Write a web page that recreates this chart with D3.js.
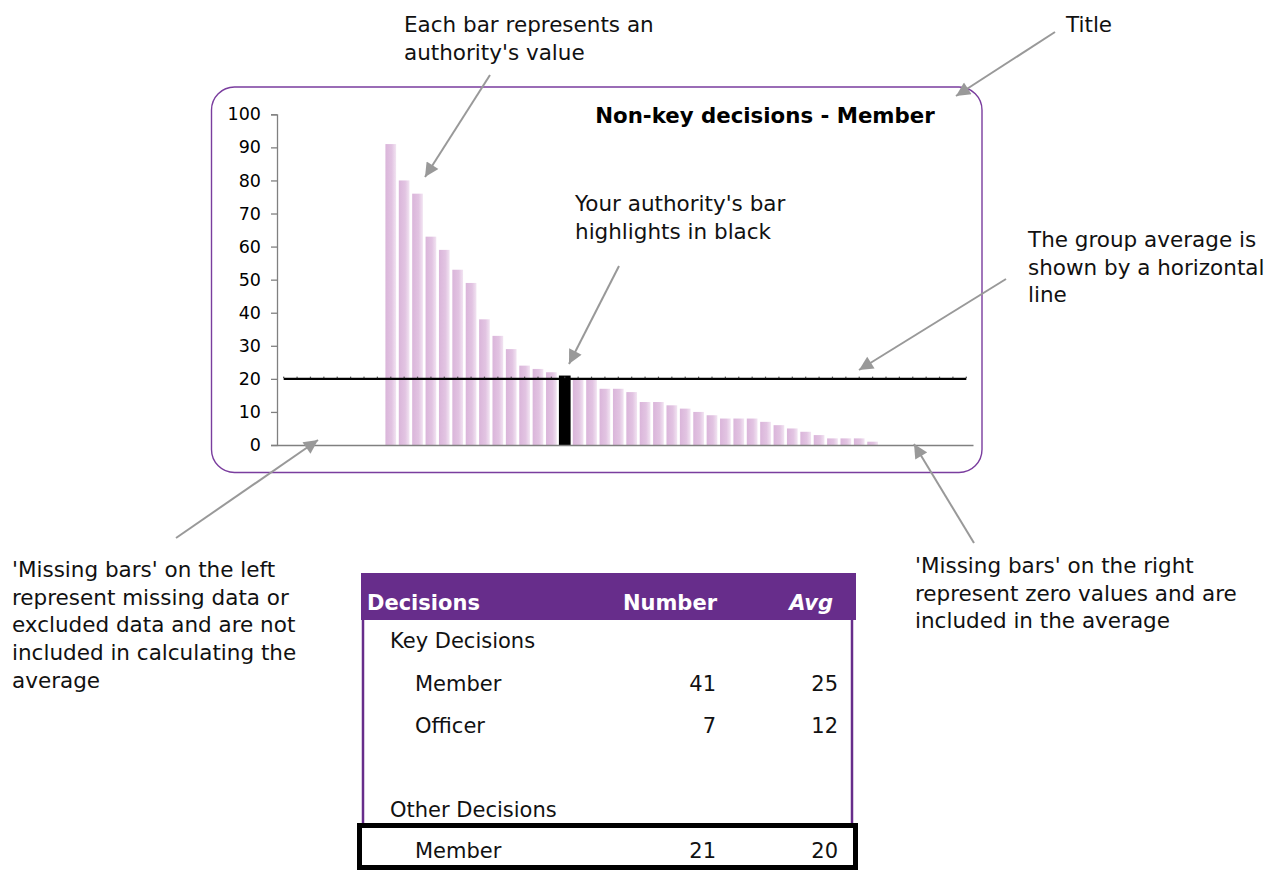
<!DOCTYPE html>
<html>
<head>
<meta charset="utf-8">
<script src="https://cdn.jsdelivr.net/npm/d3@7/dist/d3.min.js"></script>
<style>
  html, body { margin: 0; padding: 0; background: #fff; }
  svg { display: block; font-family: "DejaVu Sans", Verdana, sans-serif; }
</style>
</head>
<body>
<svg id="chart" width="1282" height="871"></svg>
<script>
// ---------------- data ----------------
const chartTitle = "Non-key decisions - Member";
// 52 authorities; null = missing/excluded (left), 0 = zero values (right)
const values = [null, null, null, null, null, null, null, null,
  91, 80, 76, 63, 59, 53, 49, 38, 33, 29, 24, 23, 22, 21,
  20, 20, 17, 17, 16, 13, 13, 12, 11, 10, 9, 8, 8, 8, 7, 6, 5, 4, 3, 2, 2, 2, 1,
  0, 0, 0, 0, 0, 0, 0];
const categories = values.map((v, i) => "Authority " + (i + 1));
const highlightIndex = 21;
const groupAverage = 20;
const yTicks = [0, 10, 20, 30, 40, 50, 60, 70, 80, 90, 100];

const tableHeader = ["Decisions", "Number", "Avg"];
const tableLabels = ["Key Decisions", "Member", "Officer", "", "Other Decisions", "Member"];
const tableIndent = [1, 2, 2, 0, 1, 2];
const tableNumbers = [null, 41, 7, null, null, 21];
const tableAvgs = [null, 25, 12, null, null, 20];

// annotations
const notes = [
  { lines: ["Each bar represents an", "authority's value"], x: 404, y: 32 },
  { lines: ["Title"], x: 1066, y: 32 },
  { lines: ["Your authority's bar", "highlights in black"], x: 575, y: 211 },
  { lines: ["The group average is", "shown by a horizontal", "line"], x: 1028, y: 247 },
  { lines: ["'Missing bars' on the left", "represent missing data or", "excluded data and are not", "included in calculating the", "average"], x: 12, y: 577 },
  { lines: ["'Missing bars' on the right", "represent zero values and are", "included in the average"], x: 915, y: 573 }
];
const arrows = [
  [490, 75, 425, 177],
  [1055, 32, 956, 96],
  [619, 266, 569, 364],
  [1006, 279, 859, 370],
  [176, 538, 318, 440],
  [974, 543, 914, 444]
];

// ---------------- drawing ----------------
const svg = d3.select("#chart");
const defs = svg.append("defs");
const grad = defs.append("linearGradient").attr("id", "barGrad")
  .attr("x1", "0%").attr("x2", "100%").attr("y1", "0%").attr("y2", "0%");
grad.append("stop").attr("offset", "0%").attr("stop-color", "#dab5da");
grad.append("stop").attr("offset", "60%").attr("stop-color", "#e2c4e2");
grad.append("stop").attr("offset", "100%").attr("stop-color", "#f2e4f2");

defs.append("marker").attr("id", "arrowHead")
  .attr("viewBox", "0 0 10 10").attr("refX", 10).attr("refY", 5)
  .attr("markerUnits", "userSpaceOnUse")
  .attr("markerWidth", 16).attr("markerHeight", 14)
  .attr("orient", "auto")
  .append("path").attr("d", "M0,0 L10,5 L0,10 Z").attr("fill", "#999");

// chart frame
svg.append("rect")
  .attr("x", 211.5).attr("y", 87).attr("width", 770.5).attr("height", 385.5)
  .attr("rx", 23).attr("ry", 23)
  .attr("fill", "none").attr("stroke", "#7a3d9e").attr("stroke-width", 1.4);

const x = d3.scaleBand().domain(categories).range([277, 973])
  .paddingInner(0.2).paddingOuter(0.1);
const y = d3.scaleLinear().domain([0, 100]).range([445, 114.3]);

// bars
const barData = values.map((v, i) => ({ c: categories[i], v, i }))
  .filter(d => d.v !== null && d.v > 0);
svg.append("g").selectAll("rect").data(barData).join("rect")
  .attr("x", d => d.i === highlightIndex ? x(d.c) - 0.5 : x(d.c))
  .attr("width", d => d.i === highlightIndex ? x.bandwidth() + 1 : x.bandwidth())
  .attr("y", d => y(d.v))
  .attr("height", d => y(0) - y(d.v))
  .attr("fill", d => d.i === highlightIndex ? "#000" : "url(#barGrad)");

// axes
const yAxis = d3.axisLeft(y).tickValues(yTicks).tickSize(6).tickPadding(10).tickFormat(d3.format("d"));
const gy = svg.append("g").attr("transform", "translate(277,0)").call(yAxis);
gy.select(".domain").attr("stroke", "#808080").attr("stroke-width", 1.3);
gy.selectAll(".tick line").attr("stroke", "#808080").attr("stroke-width", 1.3);
gy.selectAll(".tick text").attr("fill", "#000").style("font-size", "17.5px")
  .style("font-family", "'DejaVu Sans', Verdana, sans-serif");

const xAxis = d3.axisBottom(x).tickSize(0).tickFormat("");
const gx = svg.append("g").attr("transform", "translate(0,445)").call(xAxis);
gx.select(".domain").attr("stroke", "#808080").attr("stroke-width", 1.3);

// group average line
const avgLine = d3.line().x(c => x(c) + x.bandwidth() / 2).y(() => y(groupAverage));
svg.append("path").datum(categories).attr("d", avgLine)
  .attr("fill", "none").attr("stroke", "#000").attr("stroke-width", 2.2);
svg.append("g").selectAll("rect").data(categories).join("rect")
  .attr("x", c => x(c) + x.bandwidth() / 2 - 0.6).attr("width", 1.2)
  .attr("y", y(groupAverage) - 2.2).attr("height", 1.5)
  .attr("fill", "#444");

// title
svg.append("text").attr("x", 765).attr("y", 123).attr("text-anchor", "middle")
  .style("font-size", "21.3px").style("font-weight", "bold").text(chartTitle);

// annotations
const lineH = 27.7;
notes.forEach(n => {
  const t = svg.append("text").attr("x", n.x).attr("y", n.y)
    .style("font-size", "21.5px").attr("fill", "#111");
  n.lines.forEach((l, i) => {
    t.append("tspan").attr("x", n.x).attr("y", n.y + i * lineH).text(l);
  });
});
svg.append("g").selectAll("line").data(arrows).join("line")
  .attr("x1", d => d[0]).attr("y1", d => d[1]).attr("x2", d => d[2]).attr("y2", d => d[3])
  .attr("stroke", "#999").attr("stroke-width", 2).attr("marker-end", "url(#arrowHead)");

// ---------------- table ----------------
const tLeft = 361, tRight = 856;
svg.append("rect").attr("x", tLeft).attr("y", 573).attr("width", tRight - tLeft).attr("height", 47)
  .attr("fill", "#672d8b");
svg.append("line").attr("x1", tLeft + 2).attr("x2", tLeft + 2).attr("y1", 620).attr("y2", 824)
  .attr("stroke", "#672d8b").attr("stroke-width", 2.5);
svg.append("line").attr("x1", tRight - 4).attr("x2", tRight - 4).attr("y1", 620).attr("y2", 824)
  .attr("stroke", "#672d8b").attr("stroke-width", 2.5);

const colNumX = 716, colAvgX = 838;
svg.append("text").attr("x", 367).attr("y", 610).attr("fill", "#fff")
  .style("font-size", "21px").style("font-weight", "bold").text(tableHeader[0]);
svg.append("text").attr("x", 717).attr("y", 610).attr("fill", "#fff").attr("text-anchor", "end")
  .style("font-size", "21px").style("font-weight", "bold").text(tableHeader[1]);
svg.append("text").attr("x", 833).attr("y", 610).attr("fill", "#fff").attr("text-anchor", "end")
  .style("font-size", "21px").style("font-weight", "bold").style("font-style", "italic").text(tableHeader[2]);

const rowY = [648, 691, 733, 775, 817, 858];
tableLabels.forEach((lab, i) => {
  const lx = tableIndent[i] === 1 ? 390 : 415;
  if (lab) svg.append("text").attr("x", lx).attr("y", rowY[i]).style("font-size", "21px")
    .attr("fill", "#111").text(lab);
  if (tableNumbers[i] !== null) svg.append("text").attr("x", colNumX).attr("y", rowY[i])
    .attr("text-anchor", "end").style("font-size", "21px").attr("fill", "#111").text(tableNumbers[i]);
  if (tableAvgs[i] !== null) svg.append("text").attr("x", colAvgX).attr("y", rowY[i])
    .attr("text-anchor", "end").style("font-size", "21px").attr("fill", "#111").text(tableAvgs[i]);
});
// highlighted row box
svg.append("rect").attr("x", 359.5).attr("y", 825.5).attr("width", 496).attr("height", 42)
  .attr("fill", "none").attr("stroke", "#000").attr("stroke-width", 5);
</script>
</body>
</html>
